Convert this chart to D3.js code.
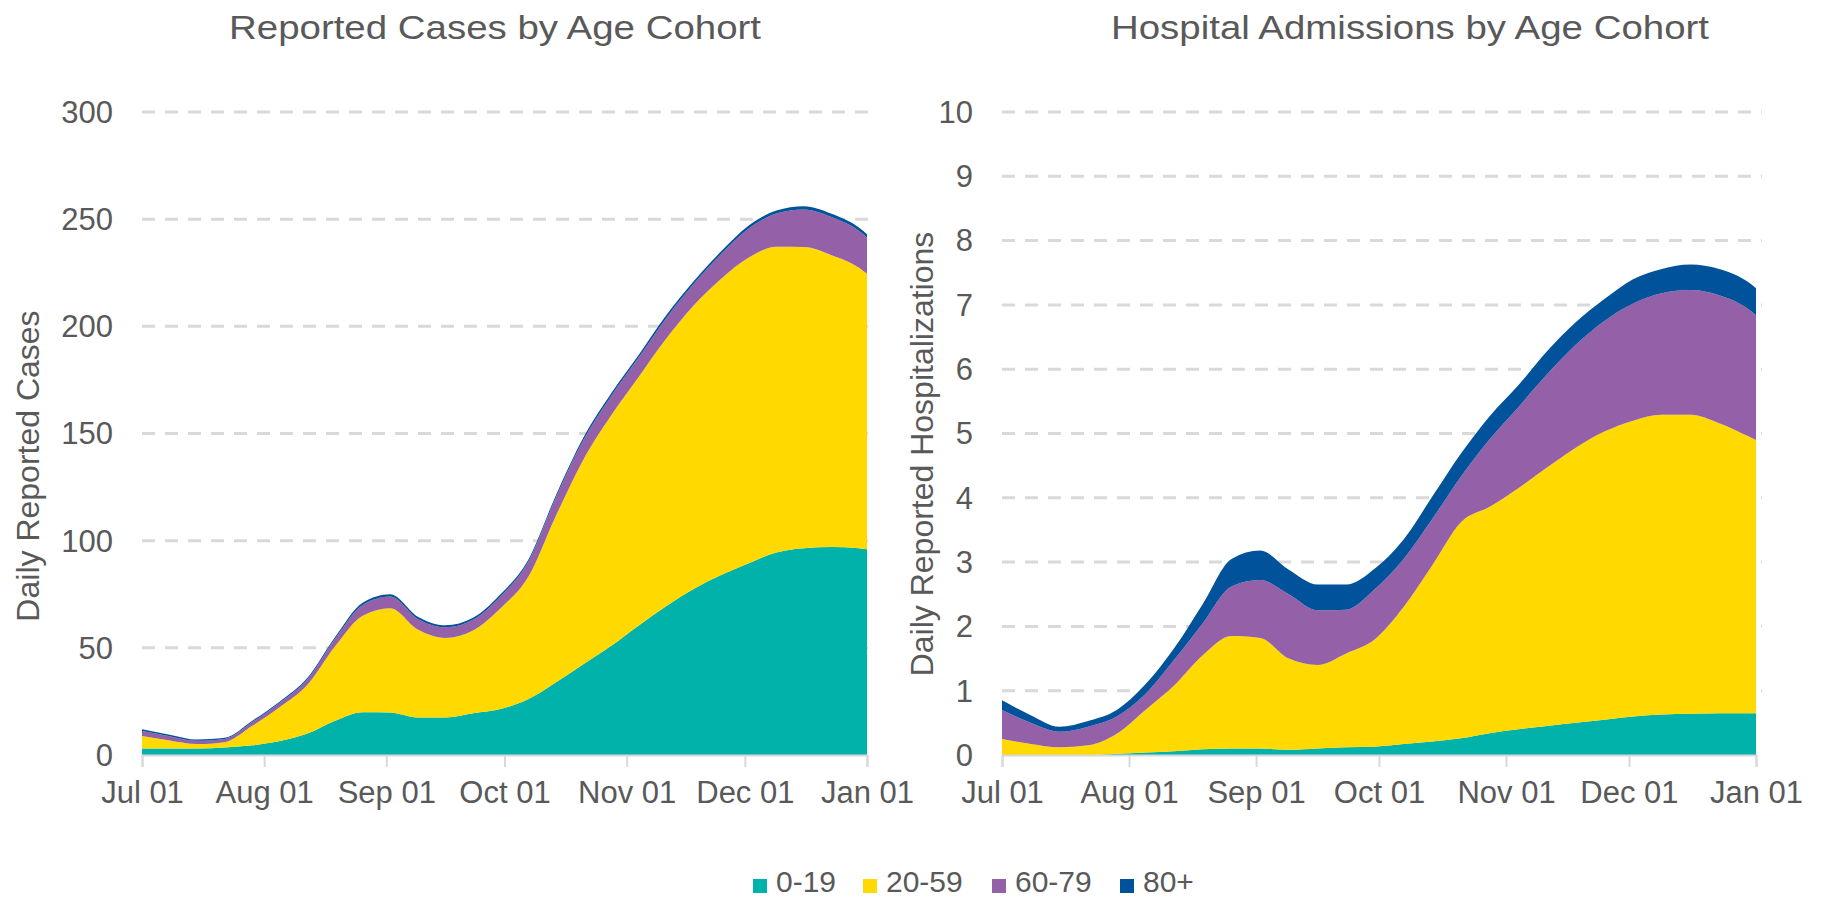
<!DOCTYPE html>
<html><head><meta charset="utf-8">
<script src="https://cdn.jsdelivr.net/npm/d3@7"></script>
<style>
body{margin:0;background:#fff;}
svg text{font-family:"Liberation Sans", Arial, sans-serif; fill:#595959;}
</style></head><body>
<svg id="chart" width="1822" height="899"></svg>
<script>
// ---- data ----
const dates = ["2020-07-01","2020-07-08","2020-07-15","2020-07-22","2020-07-29","2020-08-05","2020-08-12",
  "2020-08-19","2020-08-26","2020-09-02","2020-09-09","2020-09-16","2020-09-23","2020-09-30","2020-10-07",
  "2020-10-14","2020-10-21","2020-10-28","2020-11-04","2020-11-11","2020-11-18","2020-11-25","2020-12-02",
  "2020-12-09","2020-12-16","2020-12-23","2020-12-30","2021-01-01"];
const cohorts = ["0-19","20-59","60-79","80+"];
const cohortColors = ["#00B2A9","#FFD900","#9461A9","#00529B"];

const cases0_19  = [3,3,3,3.5,4.5,6.5,10,16,20,19.8,17.5,17.5,19.5,21.5,26,33.8,42.3,50.8,60.3,69.4,77.5,84,89.5,94.5,96.5,97,96.5,96];
const cases20_59 = [5.9,3.8,2.1,2.5,9.1,15.9,22.8,34.7,45,48.7,41,37.1,38.6,47,57,77.6,95.5,107.5,116,124.8,132.2,138.2,142.6,142.6,140.5,136.2,130.8,128.5];
const cases60_79 = [2.3,2,1.5,1.5,1.8,2,2.5,3.5,5,5.5,5,5,5,5.5,7,8.5,9,9,9,9.5,10,11.5,13.5,15.5,17.5,17.8,17.2,17];
const cases80    = [0.8,0.7,0.6,0.5,0.6,0.6,0.7,0.8,1,1,1,0.9,0.9,1,1,1.1,1.2,1.2,1.2,1.3,1.3,1.3,1.4,1.4,1.5,1.5,1.5,1.5];

const hosp0_19  = [0,0,0,0,0.02,0.04,0.06,0.09,0.10,0.10,0.08,0.10,0.12,0.13,0.17,0.21,0.26,0.34,0.40,0.45,0.50,0.55,0.60,0.63,0.64,0.65,0.65,0.65];
const hosp20_59 = [0.25,0.17,0.12,0.15,0.31,0.66,1.02,1.46,1.75,1.72,1.42,1.30,1.46,1.67,2.13,2.74,3.36,3.52,3.75,4.02,4.28,4.48,4.60,4.66,4.65,4.51,4.31,4.25];
const hosp60_79 = [0.45,0.33,0.24,0.29,0.27,0.25,0.40,0.50,0.77,0.90,1.00,0.85,0.68,0.78,0.75,0.72,0.71,1.05,1.26,1.45,1.60,1.72,1.82,1.89,1.94,1.99,1.98,1.94];
const hosp80    = [0.15,0.12,0.08,0.09,0.10,0.15,0.18,0.30,0.43,0.46,0.38,0.40,0.39,0.32,0.30,0.35,0.36,0.36,0.34,0.36,0.35,0.34,0.38,0.38,0.40,0.41,0.42,0.42];

const caseTicks = [0,50,100,150,200,250,300];
const hospTicks = [0,1,2,3,4,5,6,7,8,9,10];
const monthTicks = ["2020-07-01","2020-08-01","2020-09-01","2020-10-01","2020-11-01","2020-12-01","2021-01-01"];

// ---- drawing ----
const parse = d3.timeParse("%Y-%m-%d");
const svg = d3.select("#chart");

function buildRows(series){
  return dates.map((d,i)=>{
    const r = {date: parse(d)};
    cohorts.forEach((c,k)=>{ r[c] = series[k][i]; });
    return r;
  });
}

const panels = [
  {series:[cases0_19,cases20_59,cases60_79,cases80], ticks:caseTicks, max:300,
   x0:142, x1:867, gx1:870, labelX:113, title:"Reported Cases by Age Cohort", titleX:495, titleLen:532,
   axisTitle:"Daily Reported Cases", atX:39, atY:466},
  {series:[hosp0_19,hosp20_59,hosp60_79,hosp80], ticks:hospTicks, max:10,
   x0:1002, x1:1756, gx1:1762, labelX:973, title:"Hospital Admissions by Age Cohort", titleX:1410, titleLen:598,
   axisTitle:"Daily Reported Hospitalizations", atX:933, atY:454}
];
const yTop = 112, yBot = 755;

panels.forEach(p=>{
  const rows = buildRows(p.series);
  const x = d3.scaleTime().domain([parse("2020-07-01"), parse("2021-01-01")]).range([p.x0, p.x1]);
  const y = d3.scaleLinear().domain([0,p.max]).range([yBot,yTop]);
  const g = svg.append("g");

  // gridlines
  g.selectAll("line.grid").data(p.ticks.filter(t=>t>0)).join("line")
    .attr("x1",p.x0).attr("x2",p.gx1)
    .attr("y1",d=>y(d)).attr("y2",d=>y(d))
    .attr("stroke","#d9d9d9").attr("stroke-width",3).attr("stroke-dasharray","13,10");

  // y labels
  g.selectAll("text.ylab").data(p.ticks).join("text")
    .attr("x",p.labelX).attr("y",d=>y(d)).attr("dy","0.35em")
    .attr("text-anchor","end").style("font-size","31px").text(d=>d);

  // stacked areas
  const stack = d3.stack().keys(cohorts)(rows);
  const area = d3.area().curve(d3.curveMonotoneX)
    .x(d=>x(d.data.date)).y0(d=>y(d[0])).y1(d=>y(d[1]));
  g.selectAll("path.layer").data(stack).join("path")
    .attr("d",area).attr("fill",(d,i)=>cohortColors[i]);

  // x axis
  const xa = g.append("g").attr("transform",`translate(0,${yBot})`)
    .call(d3.axisBottom(x).tickValues(monthTicks.map(parse)).tickFormat(d3.timeFormat("%b %d")).tickSize(12).tickPadding(14));
  xa.select(".domain").attr("stroke","#d9d9d9").attr("stroke-width",2);
  xa.selectAll(".tick line").attr("stroke","#d9d9d9").attr("stroke-width",2);
  xa.selectAll(".tick text").attr("fill","#595959").style("font-size","31px")
    .style("font-family",'"Liberation Sans", Arial, sans-serif');

  // title
  g.append("text").attr("x",p.titleX).attr("y",39).attr("text-anchor","middle")
    .attr("textLength",p.titleLen).attr("lengthAdjust","spacingAndGlyphs")
    .style("font-size","34px").text(p.title);

  // axis title
  g.append("text").attr("transform",`translate(${p.atX},${p.atY}) rotate(-90)`)
    .attr("text-anchor","middle").style("font-size","32px").text(p.axisTitle);
});

// legend
const legendX = [753, 863, 992, 1120];
const lg = svg.append("g");
cohorts.forEach((c,i)=>{
  lg.append("rect").attr("x",legendX[i]).attr("y",879).attr("width",14).attr("height",14).attr("fill",cohortColors[i]);
  lg.append("text").attr("x",legendX[i]+23).attr("y",892).style("font-size","30px").text(c);
});
</script>
</body></html>
